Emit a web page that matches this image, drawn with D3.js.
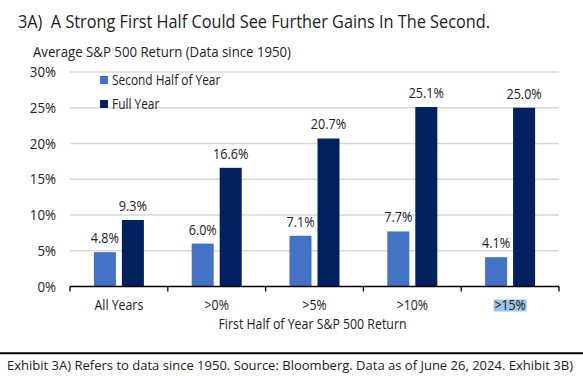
<!DOCTYPE html>
<html>
<head>
<meta charset="utf-8">
<script src="https://cdn.jsdelivr.net/npm/d3@7"></script>
<style>
  body { margin: 0; background: #fff; }
  svg text { font-family: "Open Sans", sans-serif; fill: #222; }
</style>
</head>
<body>
<div class="chart-box"></div>
<script>
/* Data */
const categories = ["All Years", ">0%", ">5%", ">10%", ">15%"];
const seriesNames = ["Second Half of Year", "Full Year"];
const secondHalf = [4.8, 6.0, 7.1, 7.7, 4.1];
const fullYear = [9.3, 16.6, 20.7, 25.1, 25.0];
const yTicks = [0, 5, 10, 15, 20, 25, 30];
const colors = ["#4472C4", "#002060"];

let width = 583, height = 376;
let margin = {left: 70, right: 24, top: 72, bottom: 89.5};

let svg = d3.select(".chart-box")
  .append("svg")
  .attr("width", width)
  .attr("height", height);

// the source font is a narrow one; squeeze the text horizontally to match
function condense(sel, k) {
  sel.each(function() {
    let w = this.getComputedTextLength();
    d3.select(this).attr("textLength", w * k).attr("lengthAdjust", "spacingAndGlyphs");
  });
}

/* Scales */
let x = d3.scaleBand()
  .domain(categories)
  .range([margin.left, width - margin.right]);
let y = d3.scaleLinear()
  .domain([0, 30])
  .range([height - margin.bottom, margin.top]);

let barW = 22, gap = 6;

/* Titles */
svg.append("text")
  .attr("x", 18).attr("y", 28)
  .style("font-size", "18.5px")
  .style("white-space", "pre")
  .attr("textLength", 472).attr("lengthAdjust", "spacingAndGlyphs")
  .text("3A)  A Strong First Half Could See Further Gains In The Second.");
svg.append("text")
  .attr("x", 33).attr("y", 57)
  .style("font-size", "14.5px")
  .attr("textLength", 258).attr("lengthAdjust", "spacingAndGlyphs")
  .text("Average S&P 500 Return (Data since 1950)");

/* Gridlines */
svg.append("g")
  .selectAll("line")
  .data(yTicks.filter(d => d > 0))
  .enter()
  .append("line")
  .attr("x1", margin.left).attr("x2", width - margin.right)
  .attr("y1", d => y(d)).attr("y2", d => y(d))
  .style("stroke", "#d9d9d9")
  .style("stroke-width", 1.5);

/* Y axis labels */
svg.append("g")
  .selectAll("text")
  .data(yTicks)
  .enter()
  .append("text")
  .attr("x", 56)
  .attr("y", d => y(d) + 5)
  .attr("text-anchor", "end")
  .style("font-size", "14px")
  .text(d => d + "%")
  .call(condense, 0.95);

/* Bars */
let rows = categories.map((c, i) => ({cat: c, vals: [secondHalf[i], fullYear[i]]}));
let groups = svg.append("g")
  .selectAll("g")
  .data(rows)
  .enter()
  .append("g");

groups.selectAll("rect")
  .data(d => d.vals.map((v, j) => ({cat: d.cat, v: v, j: j})))
  .enter()
  .append("rect")
  .attr("x", d => x(d.cat) + x.bandwidth() / 2 - barW - gap / 2 + d.j * (barW + gap))
  .attr("y", d => y(d.v))
  .attr("width", barW)
  .attr("height", d => y(0) - y(d.v))
  .style("fill", d => colors[d.j]);

groups.selectAll("text")
  .data(d => d.vals.map((v, j) => ({cat: d.cat, v: v, j: j})))
  .enter()
  .append("text")
  .attr("x", d => x(d.cat) + x.bandwidth() / 2 - barW / 2 - gap / 2 + d.j * (barW + gap))
  .attr("y", d => y(d.v) - 9)
  .attr("text-anchor", "middle")
  .style("font-size", "14px")
  .text(d => d.v.toFixed(1) + "%")
  .call(condense, 0.9);

/* X axis */
let xAxisY = y(0);
svg.append("line")
  .attr("x1", margin.left).attr("x2", width - margin.right)
  .attr("y1", xAxisY).attr("y2", xAxisY)
  .style("stroke", "#000").style("stroke-width", 1.3);
svg.append("g")
  .selectAll("line")
  .data(categories.map(c => x(c)).concat([x.range()[1]]))
  .enter()
  .append("line")
  .attr("x1", d => d).attr("x2", d => d)
  .attr("y1", xAxisY).attr("y2", xAxisY + 5)
  .style("stroke", "#000").style("stroke-width", 1.3);

// selection highlight on last label, as in the source screenshot
let last = categories[categories.length - 1];
svg.append("rect")
  .attr("x", x(last) + x.bandwidth() / 2 - 16.5)
  .attr("y", 299.5)
  .attr("width", 33)
  .attr("height", 12)
  .style("fill", "#9dc3e6");

svg.append("g")
  .selectAll("text")
  .data(categories)
  .enter()
  .append("text")
  .attr("x", d => x(d) + x.bandwidth() / 2)
  .attr("y", 310)
  .attr("text-anchor", "middle")
  .style("font-size", "14px")
  .text(d => d)
  .call(condense, 0.88);

svg.append("text")
  .attr("x", (margin.left + width - margin.right) / 2 - 2)
  .attr("y", 329)
  .attr("text-anchor", "middle")
  .style("font-size", "14px")
  .attr("textLength", 188).attr("lengthAdjust", "spacingAndGlyphs")
  .text("First Half of Year S&P 500 Return");

/* Legend */
let legend = svg.append("g")
  .selectAll("g")
  .data(seriesNames)
  .enter()
  .append("g")
  .attr("transform", (d, i) => `translate(100, ${76 + i * 24})`);
legend.append("rect")
  .attr("width", 8).attr("height", 8)
  .style("fill", (d, i) => colors[i]);
legend.append("text")
  .attr("x", 12).attr("y", 8.5)
  .style("font-size", "14px")
  .text(d => d)
  .call(condense, 0.85);

/* Footer */
svg.append("line")
  .attr("x1", 0).attr("x2", width)
  .attr("y1", 353.3).attr("y2", 353.3)
  .style("stroke", "#000").style("stroke-width", 2);
svg.append("text")
  .attr("x", 7).attr("y", 369.5)
  .style("font-size", "13px")
  .attr("textLength", 566).attr("lengthAdjust", "spacingAndGlyphs")
  .text("Exhibit 3A) Refers to data since 1950. Source: Bloomberg. Data as of June 26, 2024. Exhibit 3B)");
</script>
</body>
</html>
